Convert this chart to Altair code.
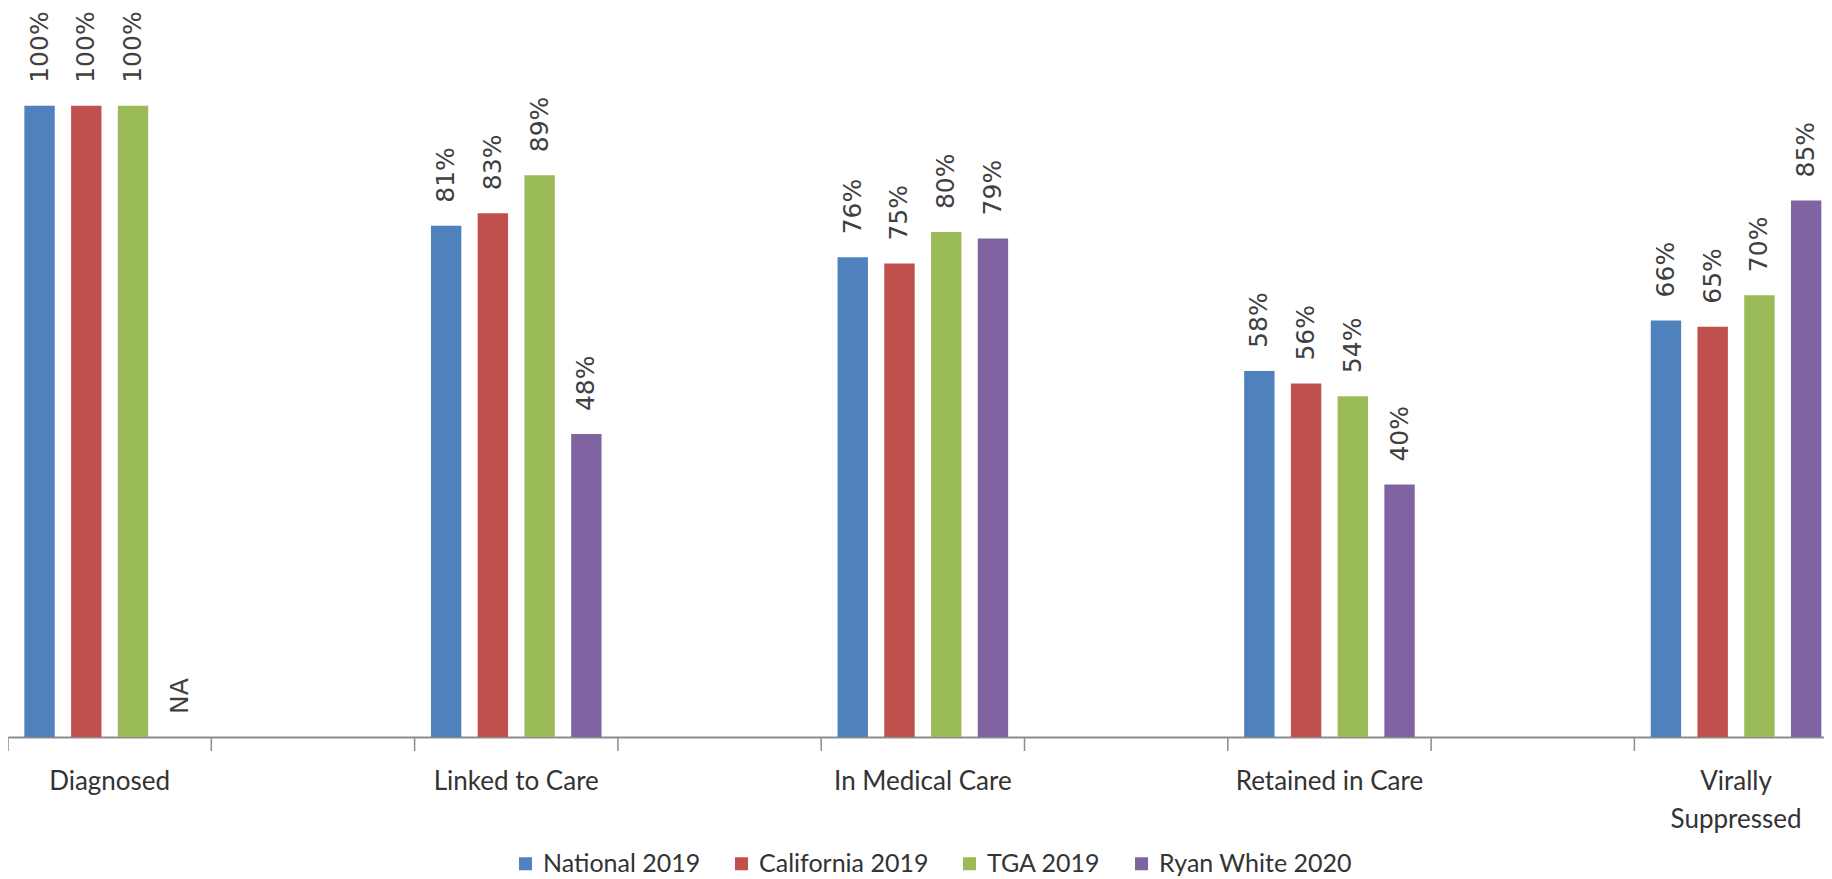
import altair as alt
import pandas as pd

stages = ["Diagnosed", "Linked to Care", "In Medical Care", "Retained in Care", "Virally Suppressed"]
slots = ["Diagnosed", "gap1", "Linked to Care", "gap2", "In Medical Care", "gap3",
         "Retained in Care", "gap4", "Virally Suppressed", "gap5"]
series = ["National 2019", "California 2019", "TGA 2019", "Ryan White 2020"]
colors = ["#4F81BD", "#C0504D", "#9BBB59", "#8064A2"]

national = [100, 81, 76, 58, 66]
california = [100, 83, 75, 56, 65]
tga = [100, 89, 80, 54, 70]
ryan_white = [None, 48, 79, 40, 85]

rows = []
for s, vals in zip(series, [national, california, tga, ryan_white]):
    for st, v in zip(stages, vals):
        rows.append({
            "stage": st,
            "series": s,
            "value": v,
            "labelpos": v if v is not None else 0,
            "label": f"{v}%" if v is not None else "NA",
        })
df = pd.DataFrame(rows)
ticks_df = pd.DataFrame({"stage": slots})

W, H = 1816, 729
xscale = alt.Scale(domain=slots, range=[0, 2033], paddingInner=0, paddingOuter=0)
yscale = alt.Scale(domain=[0, 115.5], nice=False)
xoff = alt.XOffset("series:N", scale=alt.Scale(domain=series, paddingInner=0.35, paddingOuter=0.35))

label_expr = ("datum.value == 'Virally Suppressed' ? ['Virally', 'Suppressed'] : "
              "(indexof(datum.value, 'gap') == 0 ? '' : datum.label)")

x_axis = alt.X(
    "stage:N", scale=xscale, sort=slots,
    axis=alt.Axis(title=None, ticks=False, labelAngle=0, labelFont="Lato",
                  labelFontSize=26, labelColor="#333333", labelPadding=31, labelLimit=0,
                  domainColor="#8c8c8c", domainWidth=2, labelExpr=label_expr,
                  labelLineHeight=38, labelOverlap=False, grid=False),
)

bars = alt.Chart(df).mark_bar().encode(
    x=x_axis,
    xOffset=xoff,
    y=alt.Y("value:Q", scale=yscale, axis=None),
    color=alt.Color("series:N", scale=alt.Scale(domain=series, range=colors),
                    legend=alt.Legend(title=None, orient="none", legendX=505, legendY=843,
                                      direction="horizontal", columns=4, symbolType="square",
                                      symbolSize=169, symbolStrokeWidth=0,
                                      labelFont="Lato", labelFontSize=25,
                                      labelColor="#333333", columnPadding=28, labelOffset=5,
                                      labelLimit=0)),
)

labels = alt.Chart(df).mark_text(angle=270, align="left", baseline="middle", dx=23,
                                 font="DejaVu Sans", fontSize=25, color="#404040").encode(
    x=alt.X("stage:N", scale=xscale, sort=slots),
    xOffset=xoff,
    y=alt.Y("labelpos:Q", scale=yscale, axis=None),
    text="label:N",
)

ticks = alt.Chart(ticks_df).mark_rule(color="#8c8c8c", strokeWidth=1.5).encode(
    x=alt.X("stage:N", scale=xscale, sort=slots, bandPosition=0),
    y=alt.value(H),
    y2=alt.value(H + 14),
)

chart = alt.layer(bars, labels, ticks).properties(
    width=W, height=H,
    autosize=alt.AutoSizeParams(type="none"),
    padding={"left": 0, "top": 0, "right": 0, "bottom": 142},
).configure_view(stroke=None)

chart.save("out.html", embed_options={"renderer": "svg", "actions": False})
